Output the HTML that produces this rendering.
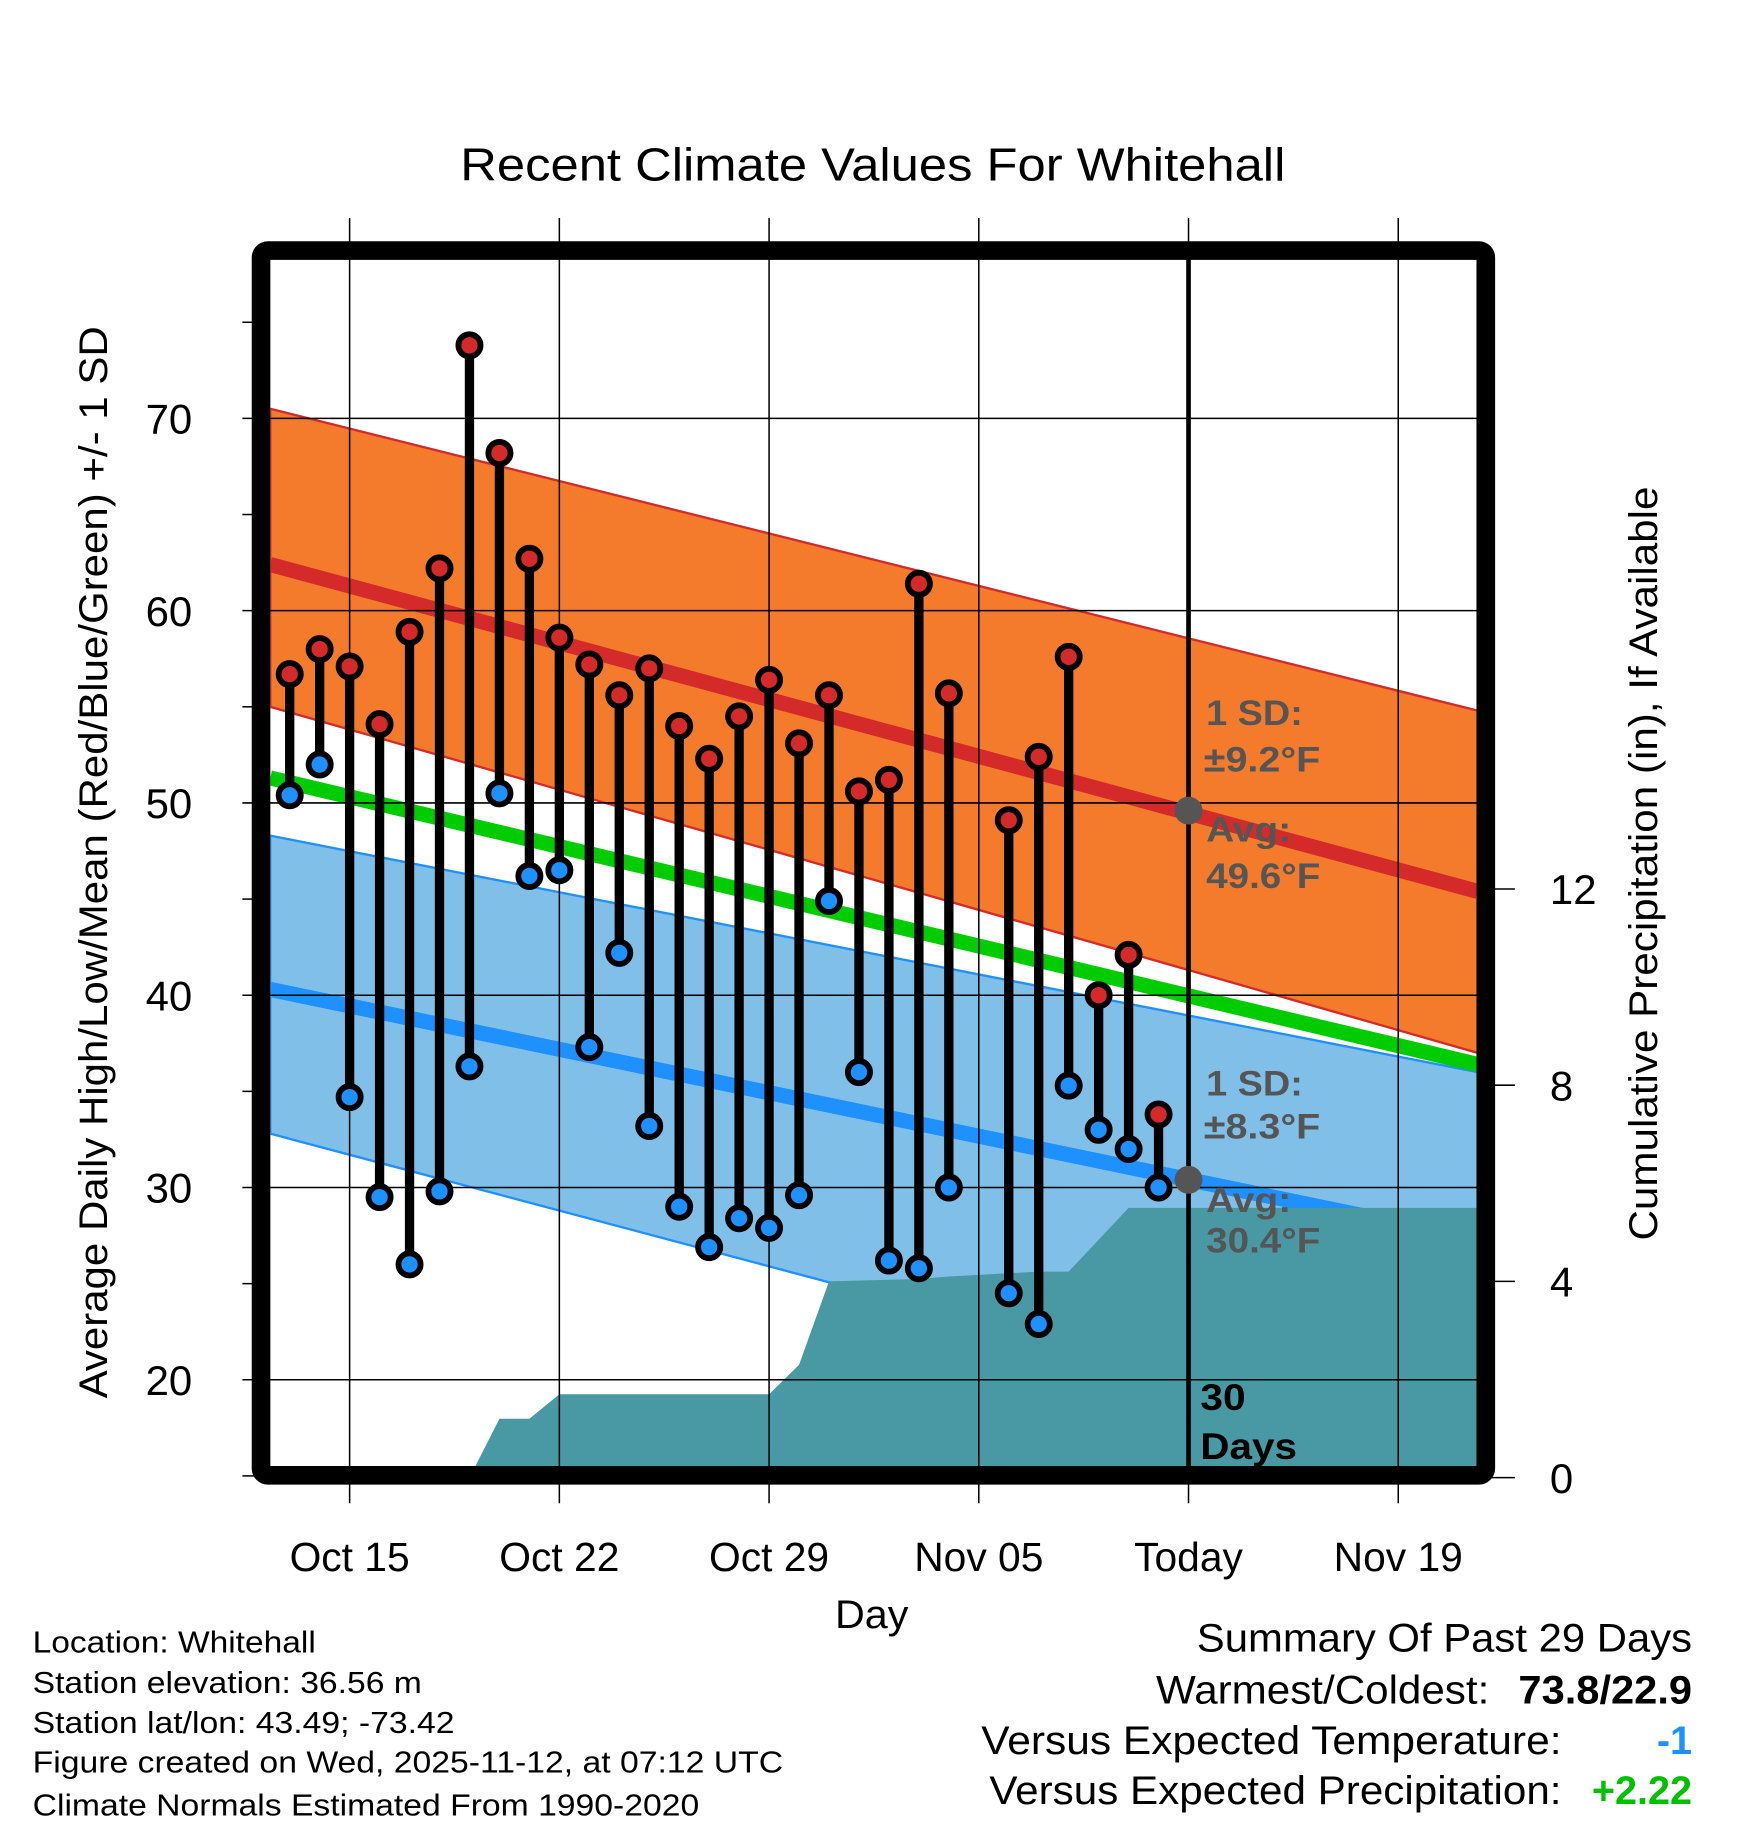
<!DOCTYPE html>
<html><head><meta charset="utf-8"><style>
html,body{margin:0;padding:0;background:#fff;}
svg{display:block;font-family:"Liberation Sans",sans-serif;}
</style></head><body>
<svg id="chart" width="1748" height="1828" viewBox="0 0 1500 1568.6" xmlns="http://www.w3.org/2000/svg">
<defs><clipPath id="plotclip"><rect x="232" y="222" width="1036" height="1037"/></clipPath></defs>
<g id="bands" clip-path="url(#plotclip)"></g>
<g id="grid"></g>
<g id="marks" clip-path="url(#plotclip)"></g>
<rect x="224" y="215" width="1051" height="1051" fill="none" stroke="#000" stroke-width="16" rx="6"/>
<g id="labels"></g>
<text x="749" y="155" font-size="40" text-anchor="middle" textLength="708" lengthAdjust="spacingAndGlyphs">Recent Climate Values For Whitehall</text>
<text x="748" y="1397" font-size="34" text-anchor="middle" textLength="63" lengthAdjust="spacingAndGlyphs">Day</text>
<text transform="translate(92,740) rotate(-90)" font-size="34" text-anchor="middle" textLength="920" lengthAdjust="spacingAndGlyphs">Average Daily High/Low/Mean (Red/Blue/Green) +/- 1 SD</text>
<text transform="translate(1422,741) rotate(-90)" font-size="34" text-anchor="middle" textLength="647" lengthAdjust="spacingAndGlyphs">Cumulative Precipitation (in), If Available</text>
<g font-size="30" font-weight="bold" fill="#555">
<text x="1035" y="622" textLength="83" lengthAdjust="spacingAndGlyphs">1 SD:</text><text x="1033" y="662" textLength="100" lengthAdjust="spacingAndGlyphs">±9.2°F</text>
<text x="1035" y="722" textLength="73" lengthAdjust="spacingAndGlyphs">Avg:</text><text x="1035" y="762" textLength="98" lengthAdjust="spacingAndGlyphs">49.6°F</text></g>
<g font-size="30" font-weight="bold" fill="#555">
<text x="1035" y="940" textLength="83" lengthAdjust="spacingAndGlyphs">1 SD:</text><text x="1033" y="977" textLength="100" lengthAdjust="spacingAndGlyphs">±8.3°F</text>
<text x="1035" y="1040" textLength="73" lengthAdjust="spacingAndGlyphs">Avg:</text><text x="1035" y="1075" textLength="98" lengthAdjust="spacingAndGlyphs">30.4°F</text></g>
<g font-size="32" font-weight="bold" fill="#000">
<text x="1030" y="1210" textLength="39" lengthAdjust="spacingAndGlyphs">30</text><text x="1030" y="1252" textLength="83" lengthAdjust="spacingAndGlyphs">Days</text></g>
<g font-size="26" fill="#000">
<text x="28" y="1418" textLength="243" lengthAdjust="spacingAndGlyphs">Location: Whitehall</text>
<text x="28" y="1453" textLength="334" lengthAdjust="spacingAndGlyphs">Station elevation: 36.56 m</text>
<text x="28" y="1487" textLength="362" lengthAdjust="spacingAndGlyphs">Station lat/lon: 43.49; -73.42</text>
<text x="28" y="1521" textLength="644" lengthAdjust="spacingAndGlyphs">Figure created on Wed, 2025-11-12, at 07:12 UTC</text>
<text x="28" y="1558" textLength="572" lengthAdjust="spacingAndGlyphs">Climate Normals Estimated From 1990-2020</text></g>
<g font-size="34" fill="#000">
<text x="1027" y="1417" textLength="425" lengthAdjust="spacingAndGlyphs">Summary Of Past 29 Days</text>
<text x="992" y="1462" textLength="286" lengthAdjust="spacingAndGlyphs">Warmest/Coldest:</text>
<text x="1303" y="1462" font-weight="bold" textLength="149" lengthAdjust="spacingAndGlyphs">73.8/22.9</text>
<text x="842" y="1505" textLength="498" lengthAdjust="spacingAndGlyphs">Versus Expected Temperature:</text>
<text x="1452" y="1505" text-anchor="end" font-weight="bold" fill="#1e90ff">-1</text>
<text x="849" y="1548" textLength="491" lengthAdjust="spacingAndGlyphs">Versus Expected Precipitation:</text>
<text x="1452" y="1548" text-anchor="end" font-weight="bold" fill="#00c000">+2.22</text></g>
</svg>
<script>
// day index 0 = Oct 13
const highs=[56.7,58.0,57.1,54.1,58.9,62.2,73.8,68.2,62.7,58.6,57.2,55.6,57.0,54.0,52.3,54.5,56.4,53.1,55.6,50.6,51.2,61.4,55.7,null,49.1,52.4,57.6,40.0,42.1,33.8];
const lows=[50.4,52.0,34.7,29.5,26.0,29.8,36.3,50.5,46.2,46.5,37.3,42.2,33.2,29.0,26.9,28.4,27.9,29.6,44.9,36.0,26.2,25.8,30.0,null,24.5,22.9,35.3,33.0,32.0,30.0];
const precipDays=[6,7,8,9,16,17,18,21,22,25,26,27,28,29];
const precipVals=[0,1.2,1.2,1.7,1.7,2.3,4.0,4.05,4.1,4.2,4.2,4.85,5.5,5.5];
const normEnds=[-0.65,39.65];
const normHigh=[62.4,45.4];
const highSdTop=[70.5,54.8];
const highSdBot=[55.0,37.0];
const normMean=[51.3,36.4];
const normLow=[40.3,27.3];
const lowSdTop=[48.3,36.0];
const lowSdBot=[32.8,16.1];
const yTicks=[20,30,40,50,60,70];
const y2Ticks=[0,4,8,12];
const xTickDays=[2,9,16,23,30,37];
const xTickLabels=["Oct 15","Oct 22","Oct 29","Nov 05","Today","Nov 19"];
const todayDay=30;

const NS="http://www.w3.org/2000/svg";
const X=d=>248.6+d*25.71;
const Y=v=>1019-(v-30)*16.5;
const Y2=p=>1268-p*42.1;
function mk(parent,tag,attrs){const e=document.createElementNS(NS,tag);for(const k in attrs)e.setAttribute(k,attrs[k]);document.getElementById(parent).appendChild(e);return e;}
function band(top,bot){return `M${X(normEnds[0])},${Y(top[0])} L${X(normEnds[1])},${Y(top[1])} L${X(normEnds[1])},${Y(bot[1])} L${X(normEnds[0])},${Y(bot[0])}Z`;}
function line(v){return `M${X(normEnds[0])},${Y(v[0])} L${X(normEnds[1])},${Y(v[1])}`;}
let e;
e=mk('bands','path',{d:band(lowSdTop,lowSdBot),fill:'#80c0e8',stroke:'#1e90ff','stroke-width':2});

e=mk('bands','path',{d:band(highSdTop,highSdBot),fill:'#f47b2c',stroke:'#d42a2a','stroke-width':2});

e=mk('bands','path',{d:line(normLow),stroke:'#1e90ff','stroke-width':13,fill:'none'});

e=mk('bands','path',{d:line(normMean),stroke:'#00cc00','stroke-width':13,fill:'none'});

e=mk('bands','path',{d:line(normHigh),stroke:'#d42a2a','stroke-width':13,fill:'none'});

let pd=`M${X(precipDays[0])},${Y2(0)}`;
precipDays.forEach((d,i)=>{pd+=` L${X(d)},${Y2(precipVals[i])}`;});
pd+=` L${X(normEnds[1])},${Y2(precipVals[precipVals.length-1])} L${X(normEnds[1])},${Y2(-1)} L${X(precipDays[0])},${Y2(-1)}Z`;
e=mk('bands','path',{d:pd,fill:'#4899a3'});

yTicks.forEach(v=>{e=mk('grid','line',{x1:208,x2:1268,y1:Y(v),y2:Y(v),stroke:'#000','stroke-width':1.3});

e=mk('labels','text',{x:165,y:Y(v)+13,'font-size':36,'text-anchor':'end'});e.textContent=v;
});
for(let v=15;v<=75;v+=5){if(yTicks.includes(v))continue;e=mk('grid','line',{x1:208,x2:220,y1:Y(v),y2:Y(v),stroke:'#000','stroke-width':1.3});
}
xTickDays.forEach((d,i)=>{e=mk('grid','line',{x1:X(d),x2:X(d),y1:187,y2:1290,stroke:'#000','stroke-width':1.3});

e=mk('labels','text',{x:X(d),y:1348,'font-size':35,'text-anchor':'middle'});e.textContent=xTickLabels[i];
});
y2Ticks.forEach(p=>{e=mk('grid','line',{x1:1268,x2:1300,y1:Y2(p),y2:Y2(p),stroke:'#000','stroke-width':1.3});

e=mk('labels','text',{x:1330,y:Y2(p)+13,'font-size':36});e.textContent=p;
});
e=mk('marks','line',{x1:X(todayDay),x2:X(todayDay),y1:222,y2:1262,stroke:'#000','stroke-width':4});

highs.forEach((h,i)=>{const l=lows[i];if(h==null||l==null)return;
e=mk('marks','line',{x1:X(i),x2:X(i),y1:Y(h),y2:Y(l),stroke:'#000','stroke-width':8});

e=mk('marks','circle',{cx:X(i),cy:Y(h),r:9.5,fill:'#d42a2a',stroke:'#000','stroke-width':5});

e=mk('marks','circle',{cx:X(i),cy:Y(l),r:9.5,fill:'#1e90ff',stroke:'#000','stroke-width':5});
});
e=mk('marks','circle',{cx:X(todayDay),cy:Y(49.6),r:12,fill:'#555'});

e=mk('marks','circle',{cx:X(todayDay),cy:Y(30.4),r:12,fill:'#555'});

</script>
</body></html>
